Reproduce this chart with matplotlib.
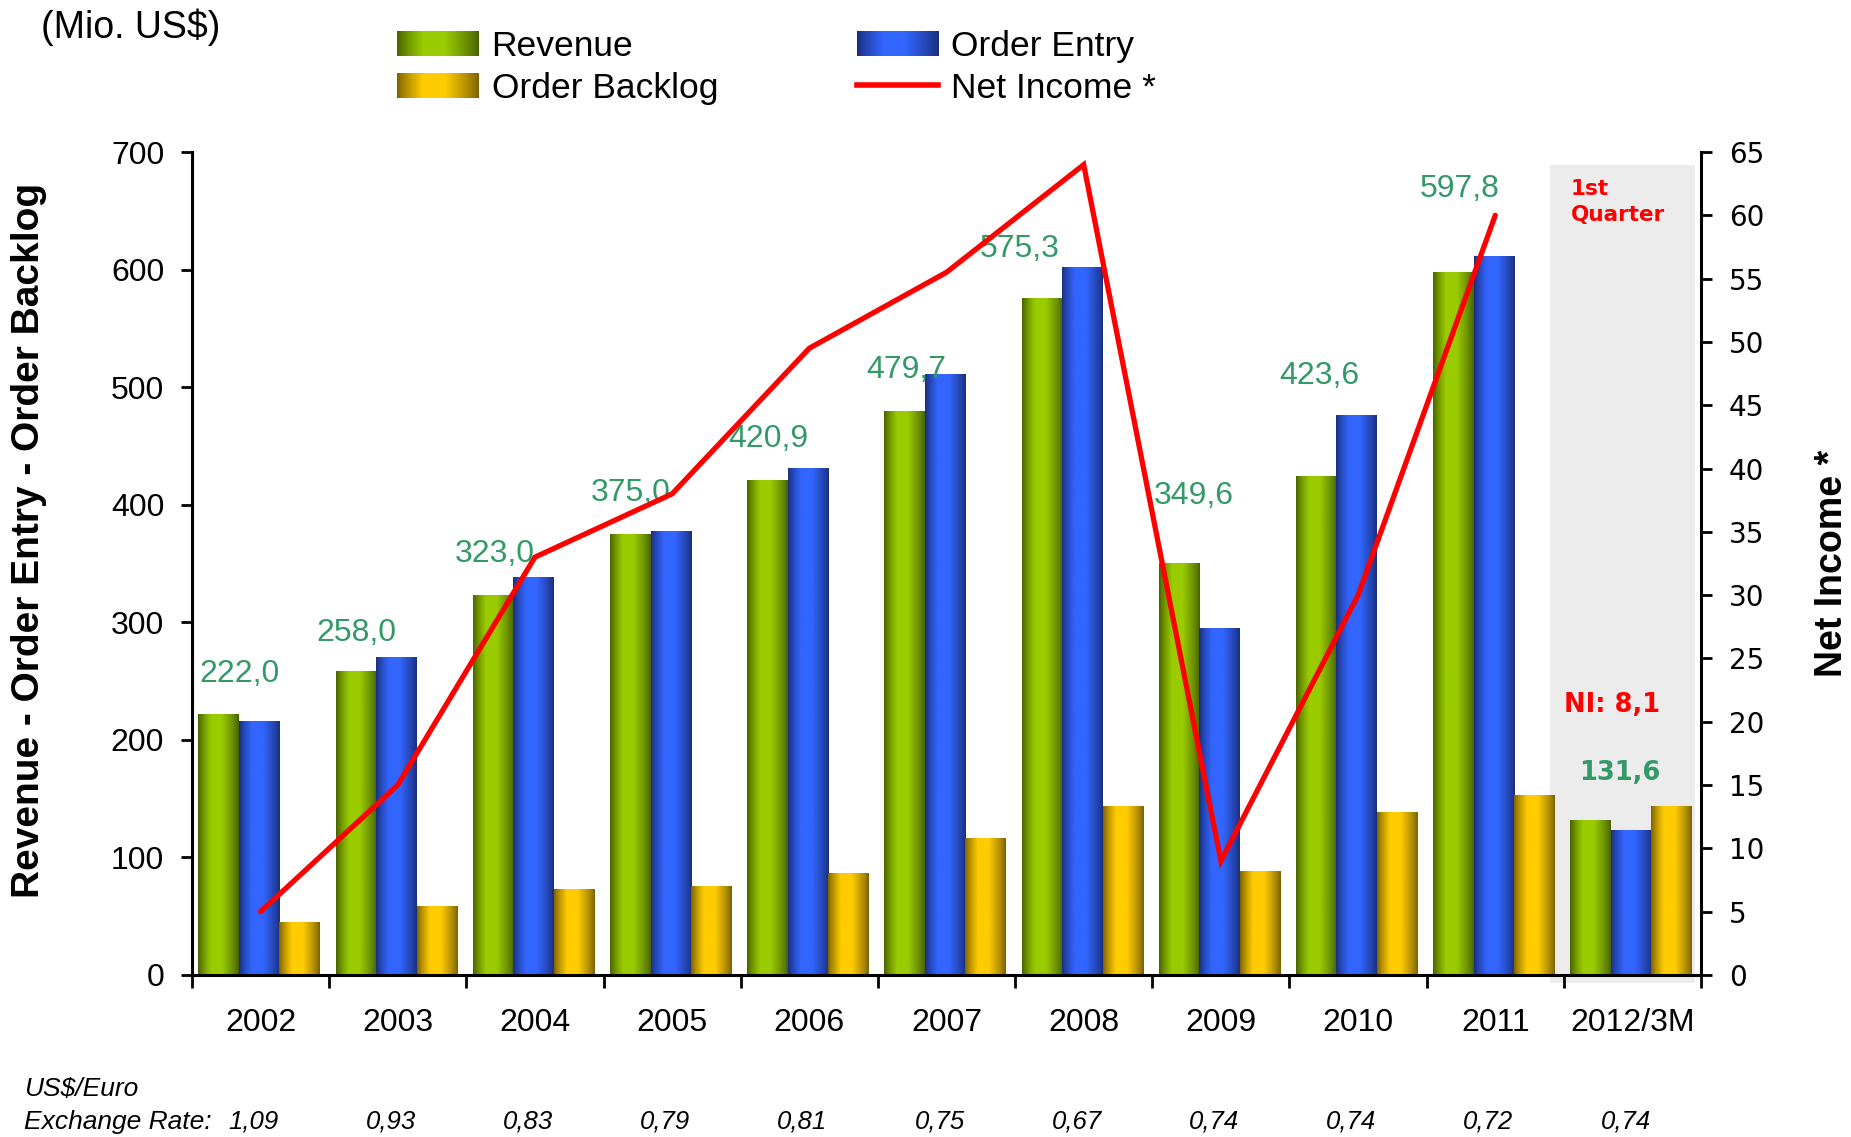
import numpy as np
import matplotlib.pyplot as plt
from matplotlib.patches import Rectangle
from matplotlib.lines import Line2D
from matplotlib.legend_handler import HandlerBase
from matplotlib.image import BboxImage
from matplotlib.transforms import Bbox, TransformedBbox, blended_transform_factory

plt.rcParams['font.family'] = ['Liberation Sans', 'DejaVu Sans']

# Daten (Mio. US$)
years = ['2002', '2003', '2004', '2005', '2006', '2007', '2008', '2009', '2010', '2011', '2012/3M']
revenue = [222.0, 258.0, 323.0, 375.0, 420.9, 479.7, 575.3, 349.6, 423.6, 597.8, 131.6]
order_entry = [216, 270, 338, 377, 431, 511, 602, 295, 476, 611, 123]
order_backlog = [45, 58, 73, 75, 86, 116, 143, 88, 138, 153, 143]
net_income = [5.0, 15.0, 33.0, 38.0, 49.5, 55.5, 64.0, 9.0, 30.0, 60.0]  # 2002-2011
ni_q1 = '8,1'
exchange_rate = ['1,09', '0,93', '0,83', '0,79', '0,81', '0,75', '0,67', '0,74', '0,74', '0,72', '0,74']

# Lage der Werte-Beschriftungen (relativ zur Gruppe)
lbl_dx = [-0.15, -0.3, -0.29, -0.3, -0.3, -0.29, -0.47, -0.2, -0.28, -0.26, -0.09]
lbl_dy = [34, 33, 35, 35, 35, 35, 42, 58, 86, 71, 40]

label_green = '#339966'


def gradient(dark, bright, n=128):
    t = np.linspace(0, 1, n)
    w = np.interp(t, [0, 0.32, 0.58, 1], [0, 1, 1, 0]) ** 0.8
    dark = np.array(dark) / 255
    bright = np.array(bright) / 255
    rgb = dark + (bright - dark) * w[:, None]
    return rgb[None, :, :]


g_green = gradient((70, 95, 0), (153, 204, 0))
g_blue = gradient((25, 45, 120), (51, 102, 255))
g_yellow = gradient((120, 95, 0), (255, 204, 0))


class GradientHandler(HandlerBase):
    def __init__(self, img):
        super().__init__()
        self.img = img

    def create_artists(self, legend, orig_handle, xdescent, ydescent, width, height, fontsize, trans):
        bb = Bbox.from_bounds(-xdescent, -ydescent, width, height)
        im = BboxImage(TransformedBbox(bb, trans), interpolation='bicubic')
        im.set_data(self.img)
        return [im]


fig = plt.figure(figsize=(18.51, 11.37), dpi=100)
ax = fig.add_axes([0.1037, 0.1425, 0.8153, 0.7238])
ax2 = ax.twinx()

x = np.arange(len(years))
w = 0.295
shift = -0.01

# grauer Kasten fuer das 1. Quartal
ax.add_patch(Rectangle((9.40, -7), 1.057, 696, facecolor='#ececec', edgecolor='none',
                       zorder=0, clip_on=False))

for vals, off, img in [(revenue, -w, g_green), (order_entry, 0, g_blue), (order_backlog, w, g_yellow)]:
    bars = ax.bar(x + shift + off, vals, width=w, color='none', edgecolor='none')
    for b in bars:
        ax.imshow(img, extent=[b.get_x(), b.get_x() + b.get_width(), 0, b.get_height()],
                  aspect='auto', interpolation='bicubic', zorder=2)

for i, v in enumerate(revenue):
    txt = f'{v:.1f}'.replace('.', ',')
    if i == len(revenue) - 1:
        ax.text(x[i] + lbl_dx[i], v + lbl_dy[i], txt, color=label_green, fontsize=18.5,
                fontweight='bold', family='DejaVu Sans', ha='center', va='center', zorder=5)
    else:
        ax.text(x[i] + lbl_dx[i], v + lbl_dy[i], txt, color=label_green, fontsize=23,
                ha='center', va='center', zorder=5)

ax.text(9.55, 677, '1st\nQuarter', color='red', fontsize=15.5, fontweight='bold',
        family='DejaVu Sans', ha='left', va='top', linespacing=1.4, zorder=5)
ax.text(9.85, 230, 'NI: ' + ni_q1, color='red', fontsize=18.5, fontweight='bold',
        family='DejaVu Sans', ha='center', va='center', zorder=5)

ax2.plot(x[:len(net_income)], net_income, color='red', lw=3.8, solid_capstyle='round',
         solid_joinstyle='miter')

ax.set_xlim(-0.5, 10.5)
ax.set_ylim(0, 700)
ax2.set_ylim(0, 65)

ax.set_yticks(np.arange(0, 701, 100))
ax2.set_yticks(np.arange(0, 66, 5))
ax.set_xticks(np.arange(-0.5, 10.6, 1))
ax.set_xticklabels([])
ax.set_xticks(x, minor=True)
ax.set_xticklabels(years, minor=True)

ax.tick_params(axis='y', direction='out', length=8, width=2, labelsize=23, pad=12)
ax.tick_params(axis='x', which='major', direction='out', length=9, width=2)
ax.tick_params(axis='x', which='minor', length=0, labelsize=23, pad=23.5)
ax2.tick_params(axis='y', direction='out', length=8, width=2, labelsize=20, pad=12)
for lab in ax2.get_yticklabels():
    lab.set_family('DejaVu Sans')

for s in ['top', 'right']:
    ax.spines[s].set_visible(False)
for s in ['top', 'left', 'bottom']:
    ax2.spines[s].set_visible(False)
ax.spines['left'].set_linewidth(2.2)
ax.spines['bottom'].set_linewidth(2.2)
ax2.spines['right'].set_linewidth(2.2)

ax.set_ylabel('Revenue - Order Entry - Order Backlog', fontsize=28, fontweight='bold', va='center')
ax.yaxis.set_label_coords(-0.108, 0.528)
ax2.set_ylabel('Net Income *', fontsize=27, fontweight='bold', va='center')
ax2.yaxis.set_label_coords(1.0865, 0.5)

fig.text(0.022, 0.976, '(Mio. US$)', fontsize=27, va='center', ha='left')

# Legende
h_rev = Rectangle((0, 0), 1, 1, label='Revenue')
h_back = Rectangle((0, 0), 1, 1, label='Order Backlog')
h_entry = Rectangle((0, 0), 1, 1, label='Order Entry')
h_ni = Line2D([], [], color='red', lw=4, label='Net Income *')
fig.legend(handles=[h_rev, h_back, h_entry, h_ni], ncol=2, loc='upper left',
           bbox_to_anchor=(0.2145, 0.9736), frameon=False, fontsize=25.5, borderpad=0,
           borderaxespad=0, handlelength=2.3, handletextpad=0.37, columnspacing=3.92,
           labelspacing=0.25,
           handler_map={h_rev: GradientHandler(g_green), h_back: GradientHandler(g_yellow),
                        h_entry: GradientHandler(g_blue)})

# Wechselkurse
tr = blended_transform_factory(ax.transData, fig.transFigure)
fig.text(0.0128, 0.042, 'US$/Euro', fontsize=19, style='italic', va='center', ha='left')
fig.text(0.0128, 0.0136, 'Exchange Rate:', fontsize=19, style='italic', va='center', ha='left')
for i, r in enumerate(exchange_rate):
    ax.text(x[i] - 0.05, 0.0136, r, transform=tr, fontsize=18.5, style='italic',
            ha='center', va='center')

fig.savefig('out.png', dpi=100)
